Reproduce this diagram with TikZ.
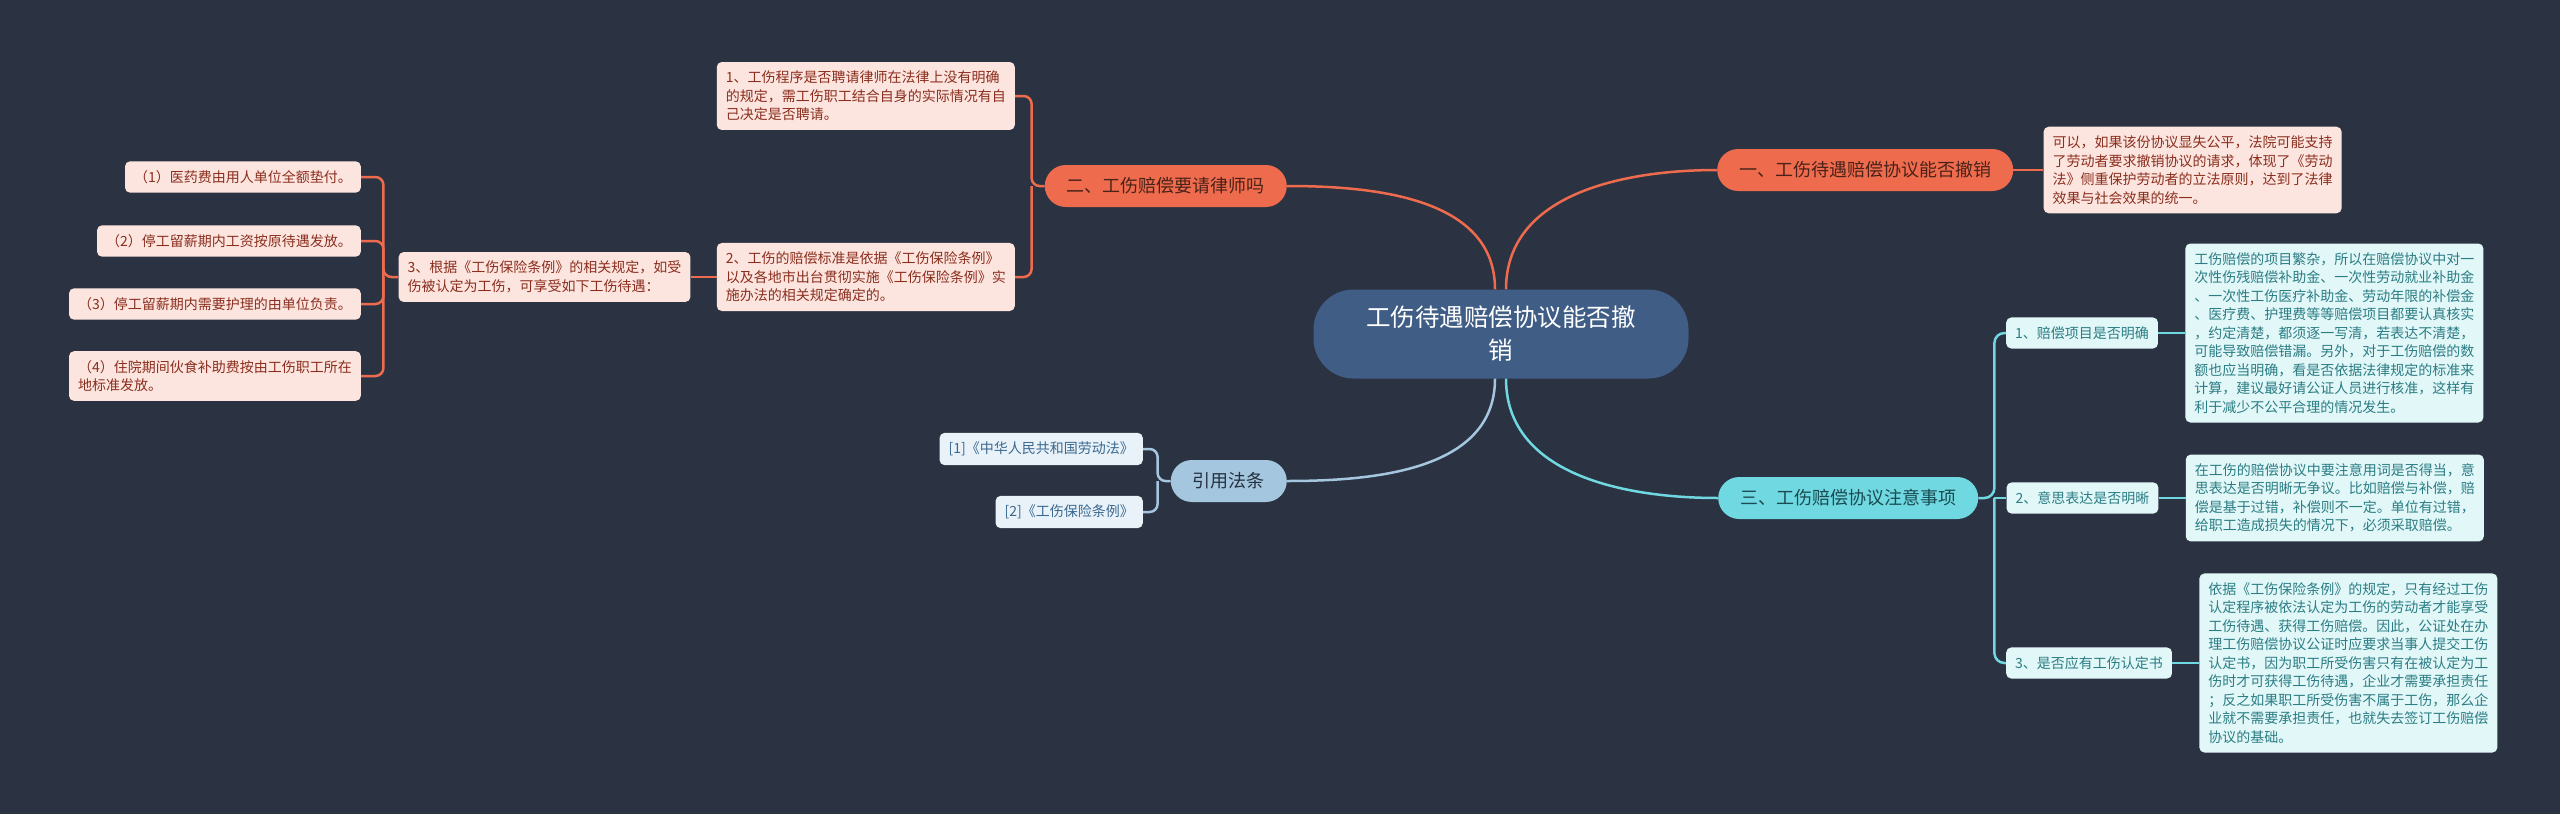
\documentclass[tikz,border=0pt]{standalone}
\usepackage{fontspec}
\newfontfamily\cjk{Noto Sans CJK SC}
\usepackage{tikz}
\usetikzlibrary{positioning}

\definecolor{bgnavy}{HTML}{2B3242}
\definecolor{rootblue}{HTML}{3F5D85}
\definecolor{coral}{HTML}{EE6C4D}
\definecolor{coraldark}{HTML}{4A2219}
\definecolor{coralleaf}{HTML}{FDE5DF}
\definecolor{coraltext}{HTML}{8A2E1E}
\definecolor{aqua}{HTML}{6FD8E0}
\definecolor{aquadark}{HTML}{1B4A52}
\definecolor{aqualeaf}{HTML}{E2F7F8}
\definecolor{aquatext}{HTML}{2A7D84}
\definecolor{steel}{HTML}{A4C6DE}
\definecolor{steeldark}{HTML}{24303F}
\definecolor{steelleaf}{HTML}{E9F2F8}
\definecolor{steeltext}{HTML}{3A6890}

\tikzset{
    root/.style={rectangle, fill=rootblue, text=white, rounded corners=40pt, minimum width=375pt, minimum height=89pt, align=center, font=\cjk\fontsize{24.5}{33}\selectfont},
    topic/.style={rectangle, rounded corners=21pt, minimum height=42pt, inner xsep=22pt, font=\cjk\fontsize{18}{22}\selectfont},
    leaf/.style={rectangle, rounded corners=5pt, inner xsep=9pt, inner ysep=9pt, align=left, font=\cjk\fontsize{14}{18.5}\selectfont},
    coraltopic/.style={topic, fill=coral, text=coraldark},
    aquatopic/.style={topic, fill=aqua, text=aquadark},
    steeltopic/.style={topic, fill=steel, text=steeldark},
    coralbox/.style={leaf, fill=coralleaf, text=coraltext},
    aquabox/.style={leaf, fill=aqualeaf, text=aquatext},
    steelbox/.style={leaf, fill=steelleaf, text=steeltext},
    coralline/.style={draw=coral, line width=2.5pt},
    aqualine/.style={draw=aqua, line width=2.5pt},
    steelline/.style={draw=steel, line width=2.5pt},
}

\begin{document}
\begin{tikzpicture}[x=1pt, y=-1pt]
    \fill[bgnavy] (0,0) rectangle (2560,814);
    \useasboundingbox (0,0) rectangle (2560,814);

    % centre
    \node[root] (root) at (1501,334) {工伤待遇赔偿协议能否撤\\销};

    % branch one
    \node[coraltopic, anchor=west] (yi) at (1717,170) {一、工伤待遇赔偿协议能否撤销};
    \node[coralbox, right=30pt of yi] (yileaf) {可以，如果该份协议显失公平，法院可能支持\\了劳动者要求撤销协议的请求，体现了《劳动\\法》侧重保护劳动者的立法原则，达到了法律\\效果与社会效果的统一。};

    % branch two
    \node[coraltopic, anchor=east] (er) at (1287,186) {二、工伤赔偿要请律师吗};
    \node[coralbox, anchor=east] (er1) at (1015,96) {1、工伤程序是否聘请律师在法律上没有明确\\的规定，需工伤职工结合自身的实际情况有自\\己决定是否聘请。};
    \node[coralbox, anchor=east] (er2) at (1015,277) {2、工伤的赔偿标准是依据《工伤保险条例》\\以及各地市出台贯彻实施《工伤保险条例》实\\施办法的相关规定确定的。};
    \node[coralbox, left=26pt of er2] (er3) {3、根据《工伤保险条例》的相关规定，如受\\伤被认定为工伤，可享受如下工伤待遇：};
    \node[coralbox, anchor=east] (sub1) at (361,177) {（1）医药费由用人单位全额垫付。};
    \node[coralbox, anchor=east] (sub2) at (361,241) {（2）停工留薪期内工资按原待遇发放。};
    \node[coralbox, anchor=east] (sub3) at (361,304) {（3）停工留薪期内需要护理的由单位负责。};
    \node[coralbox, anchor=east] (sub4) at (361,376) {（4）住院期间伙食补助费按由工伤职工所在\\地标准发放。};

    % branch three
    \node[aquatopic, anchor=west] (san) at (1718,498) {三、工伤赔偿协议注意事项};
    \node[aquabox, anchor=west] (sx1) at (2006,333) {1、赔偿项目是否明确};
    \node[aquabox, right=28pt of san] (sx2) {2、意思表达是否明晰};
    \node[aquabox, anchor=west] (sx3) at (2006,663) {3、是否应有工伤认定书};
    \node[aquabox, right=27pt of sx1] (sx1d) {工伤赔偿的项目繁杂，所以在赔偿协议中对一\\次性伤残赔偿补助金、一次性劳动就业补助金\\、一次性工伤医疗补助金、劳动年限的补偿金\\、医疗费、护理费等等赔偿项目都要认真核实\\，约定清楚，都须逐一写清，若表达不清楚，\\可能导致赔偿错漏。另外，对于工伤赔偿的数\\额也应当明确，看是否依据法律规定的标准来\\计算，建议最好请公证人员进行核准，这样有\\利于减少不公平合理的情况发生。};
    \node[aquabox, right=27pt of sx2] (sx2d) {在工伤的赔偿协议中要注意用词是否得当，意\\思表达是否明晰无争议。比如赔偿与补偿，赔\\偿是基于过错，补偿则不一定。单位有过错，\\给职工造成损失的情况下，必须采取赔偿。};
    \node[aquabox, right=27pt of sx3] (sx3d) {依据《工伤保险条例》的规定，只有经过工伤\\认定程序被依法认定为工伤的劳动者才能享受\\工伤待遇、获得工伤赔偿。因此，公证处在办\\理工伤赔偿协议公证时应要求当事人提交工伤\\认定书，因为职工所受伤害只有在被认定为工\\伤时才可获得工伤待遇，企业才需要承担责任\\；反之如果职工所受伤害不属于工伤，那么企\\业就不需要承担责任，也就失去签订工伤赔偿\\协议的基础。};

    % references
    \node[steeltopic, anchor=east] (ref) at (1287,481) {引用法条};
    \node[steelbox, anchor=east] (ref1) at (1143,449) {[1]《中华人民共和国劳动法》};
    \node[steelbox, anchor=east] (ref2) at (1143,512) {[2]《工伤保险条例》};

    % links from the centre
    \draw[coralline] ([xshift=-6pt]root.north) to[out=90, in=0] (er.east);
    \draw[coralline] ([xshift=5pt]root.north) to[out=90, in=180] (yi.west);
    \draw[aqualine] ([xshift=5pt]root.south) to[out=-90, in=180] (san.west);
    \draw[steelline] ([xshift=-6pt]root.south) to[out=-90, in=0] (ref.east);

    % brackets
    \coordinate (erj) at ([xshift=-13pt]er.west);
    \coordinate (er3j) at ([xshift=-15pt]er3.west);
    \coordinate (sanj) at ([xshift=16pt]san.east);
    \coordinate (refj) at ([xshift=-13pt]ref.west);

    \draw[coralline, rounded corners=8pt] (er.west) -- (erj) |- (er1.east);
    \draw[coralline, rounded corners=8pt] (erj) |- (er2.east);
    \draw[coralline] (er2.west) -- (er3.east);
    \draw[coralline] (yi.east) -- (yileaf.west);
    \draw[coralline, rounded corners=8pt] (er3.west) -- (er3j) |- (sub1.east);
    \draw[coralline, rounded corners=8pt] (er3j) |- (sub2.east);
    \draw[coralline, rounded corners=8pt] (er3j) |- (sub3.east);
    \draw[coralline, rounded corners=8pt] (er3j) |- (sub4.east);

    \draw[aqualine, rounded corners=10pt] (san.east) -- (sanj) |- (sx1.west);
    \draw[aqualine] (sanj) -- (sx2.west);
    \draw[aqualine, rounded corners=10pt] (sanj) |- (sx3.west);
    \draw[aqualine] (sx1.east) -- (sx1d.west);
    \draw[aqualine] (sx2.east) -- (sx2d.west);
    \draw[aqualine] (sx3.east) -- (sx3d.west);

    \draw[steelline, rounded corners=8pt] (ref.west) -- (refj) |- (ref1.east);
    \draw[steelline, rounded corners=8pt] (refj) |- (ref2.east);
\end{tikzpicture}
\end{document}
